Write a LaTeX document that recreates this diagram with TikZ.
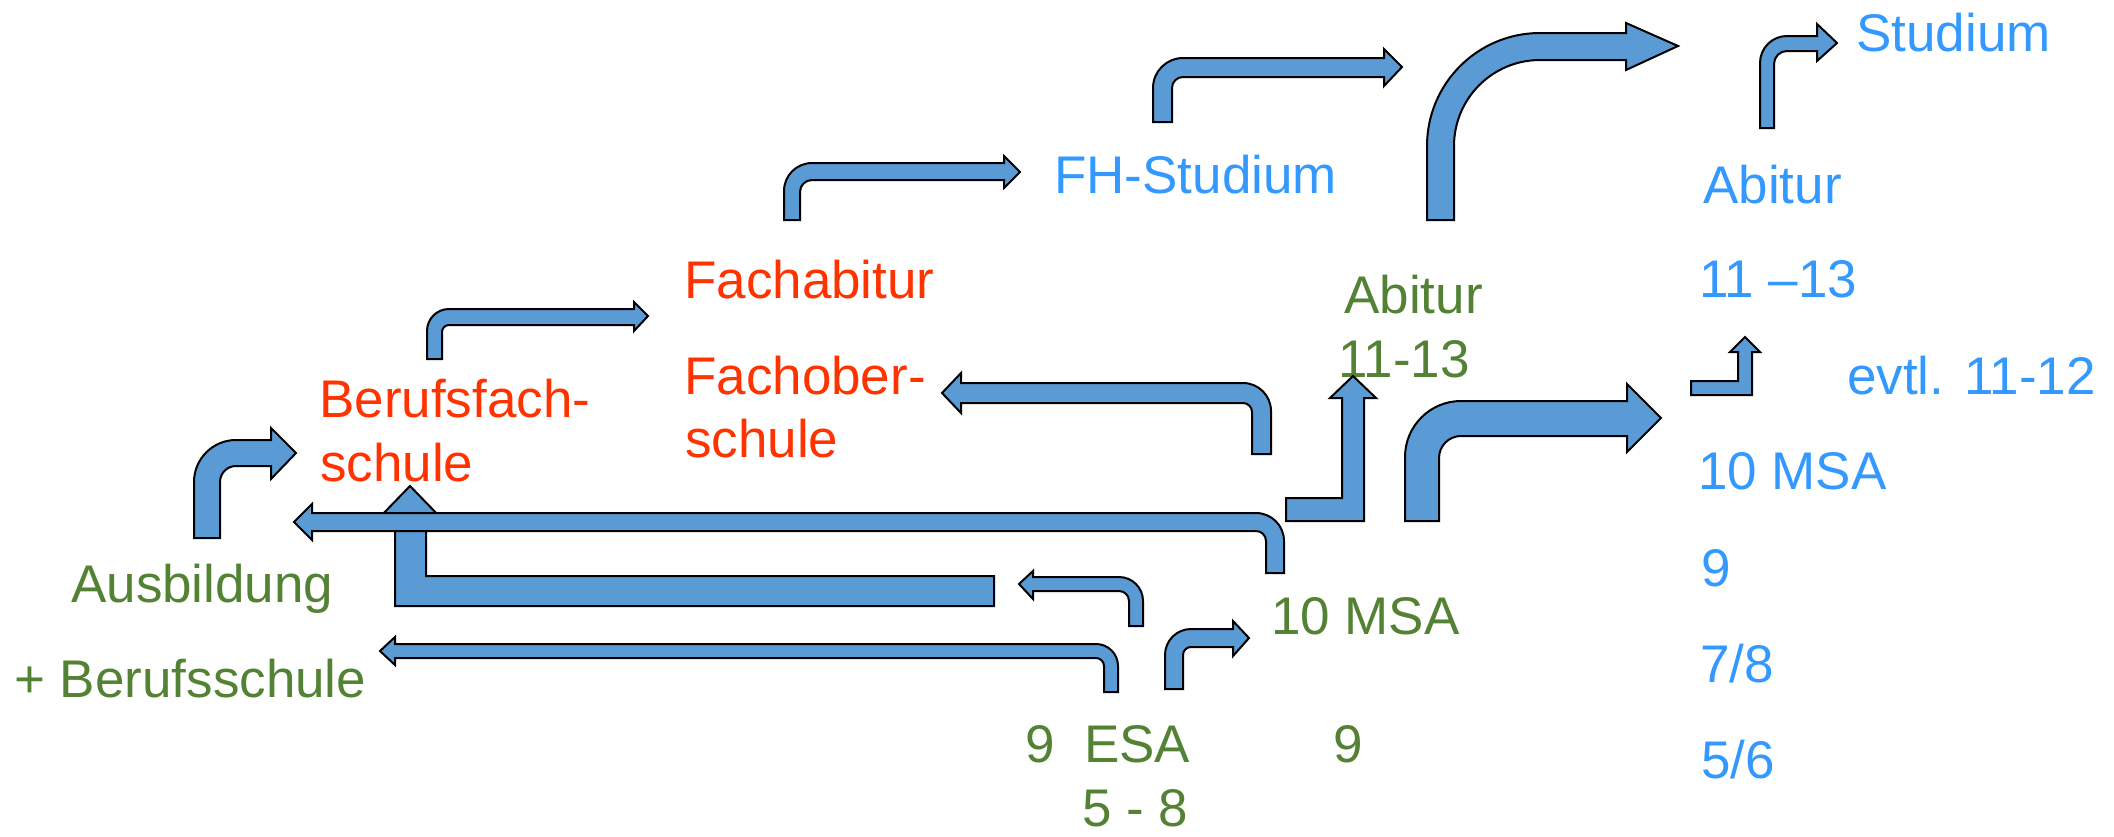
\documentclass[tikz,border=0pt]{standalone}
\usepackage{fontspec}
\setmainfont{Liberation Sans}
\definecolor{arrowblue}{HTML}{5B9BD5}
\definecolor{txtred}{HTML}{FF3300}
\definecolor{txtgreen}{HTML}{548235}
\definecolor{txtblue}{HTML}{3399FF}
\tikzset{
  blockarrow/.style={fill=arrowblue, draw=black, line width=2pt, line join=miter},
  lbl/.style={anchor=base west, inner sep=0pt, font=\fontsize{53}{64}\selectfont},
  redlbl/.style={lbl, text=txtred},
  greenlbl/.style={lbl, text=txtgreen},
  bluelbl/.style={lbl, text=txtblue}
}
\begin{document}
\begin{tikzpicture}[x=1pt,y=1pt]
\useasboundingbox (0,0) rectangle (2114,-836);

% ---- labels: vocational track (red) ----
\node[redlbl] (bfs1) at (319,-417) {Berufsfach-};
\node[redlbl] (bfs2) at (320,-481) {schule};
\node[redlbl] (fachabi) at (684,-298) {Fachabitur};
\node[redlbl] (fos1) at (684,-394) {Fachober-};
\node[redlbl] (fos2) at (685,-457) {schule};

% ---- labels: comprehensive school (green) ----
\node[greenlbl] (ausb) at (71,-602) {Ausbildung};
\node[greenlbl] (bs) at (14,-697) {+ Berufsschule};
\node[greenlbl] (abigr) at (1344,-313) {Abitur};
\node[greenlbl] (abigrb) at (1338,-377) {11-13};
\node[greenlbl] (msagr) at (1271,-634) {10 MSA};
\node[greenlbl] (esa) at (1025,-762) {9~~ESA};
\node[greenlbl] (unter) at (1082,-826) {5 - 8};
\node[greenlbl] (neungr) at (1333,-762) {9};

% ---- labels: grammar school (blue) ----
\node[bluelbl] (fh) at (1054,-193) {FH-Studium};
\node[bluelbl] (studium) at (1856,-51) {Studium};
\node[bluelbl] (abibl) at (1703,-203) {Abitur};
\node[bluelbl] (oberst) at (1699,-297) {11 –13};
\node[bluelbl] (evtl) at (1847,-394) {evtl. 11-12};
\node[bluelbl] (msabl) at (1698,-489) {10 MSA};
\node[bluelbl] (neunbl) at (1701,-586) {9};
\node[bluelbl] (siebenbl) at (1700,-682) {7/8};
\node[bluelbl] (fuenfbl) at (1701,-778) {5/6};

% ---- block arrows ----
% wide bent-up arrow into Berufsfachschule (partly behind the long arrow)
\draw[blockarrow] (994,-576) -- (426,-576) -- (426,-520) -- (443,-520) -- (410,-486)
  -- (377,-520) -- (395,-520) -- (395,-606) -- (994,-606) -- cycle;
% long arrow from 10 MSA to Berufsfachschule
\draw[blockarrow] (294,-522) -- (312,-504) -- (312,-513) -- (1256,-513)
  arc[start angle=90,end angle=0,radius=28] -- (1284,-573) -- (1266,-573) -- (1266,-541)
  arc[start angle=0,end angle=90,radius=10] -- (312,-531) -- (312,-540) -- cycle;
% Ausbildung -> Berufsfachschule
\draw[blockarrow] (194,-538) -- (194,-482) arc[start angle=180,end angle=90,radius=42]
  -- (271,-440) -- (271,-428) -- (296,-453) -- (271,-479) -- (271,-466) -- (236,-466)
  arc[start angle=90,end angle=180,radius=16] -- (220,-538) -- cycle;
% Berufsfachschule -> Fachabitur
\draw[blockarrow] (427,-359) -- (427,-331) arc[start angle=180,end angle=90,radius=22]
  -- (634,-309) -- (634,-302) -- (648,-316) -- (634,-331) -- (634,-325) -- (449,-325)
  arc[start angle=90,end angle=180,radius=7] -- (442,-359) -- cycle;
% Fachabitur -> FH-Studium
\draw[blockarrow] (784,-220) -- (784,-191) arc[start angle=180,end angle=90,radius=28]
  -- (1004,-163) -- (1004,-156) -- (1020,-172) -- (1004,-188) -- (1004,-180) -- (812,-180)
  arc[start angle=90,end angle=180,radius=12] -- (800,-220) -- cycle;
% FH-Studium -> further
\draw[blockarrow] (1153,-122) -- (1153,-88) arc[start angle=180,end angle=90,radius=30]
  -- (1384,-58) -- (1384,-49) -- (1402,-67) -- (1384,-86) -- (1384,-77) -- (1183,-77)
  arc[start angle=90,end angle=180,radius=11] -- (1172,-122) -- cycle;
% Abitur (green) -> Studium
\draw[blockarrow] (1427,-220) -- (1427,-146) arc[start angle=180,end angle=90,radius=113]
  -- (1626,-33) -- (1626,-23) -- (1678,-46) -- (1626,-70) -- (1626,-60) -- (1540,-60)
  arc[start angle=90,end angle=180,radius=86] -- (1454,-220) -- cycle;
% Abitur (blue) -> Studium
\draw[blockarrow] (1760,-128) -- (1760,-63) arc[start angle=180,end angle=90,radius=27]
  -- (1817,-36) -- (1817,-24) -- (1837,-43) -- (1817,-61) -- (1817,-51) -- (1787,-51)
  arc[start angle=90,end angle=180,radius=13] -- (1774,-64) -- (1774,-128) -- cycle;
% 10 MSA (green) -> Fachoberschule
\draw[blockarrow] (942,-393) -- (961,-373) -- (961,-383) -- (1243,-383)
  arc[start angle=90,end angle=0,radius=28] -- (1271,-454) -- (1252,-454) -- (1252,-412)
  arc[start angle=0,end angle=90,radius=9] -- (961,-403) -- (961,-413) -- cycle;
% 10 MSA (green) -> Abitur 11-13
\draw[blockarrow] (1286,-498) -- (1342,-498) -- (1342,-398) -- (1330,-398) -- (1353,-376)
  -- (1376,-398) -- (1364,-398) -- (1364,-521) -- (1286,-521) -- cycle;
% 10 MSA (green) -> 10 MSA (blue)
\draw[blockarrow] (1405,-521) -- (1405,-457) arc[start angle=180,end angle=90,radius=56]
  -- (1627,-401) -- (1627,-384) -- (1661,-418) -- (1627,-452) -- (1627,-436) -- (1461,-436)
  arc[start angle=90,end angle=180,radius=22] -- (1439,-521) -- cycle;
% 10 MSA (blue) -> 11-13
\draw[blockarrow] (1691,-381) -- (1738,-381) -- (1738,-352) -- (1730,-352) -- (1745,-337)
  -- (1760,-352) -- (1752,-352) -- (1752,-395) -- (1691,-395) -- cycle;
% ESA -> wide arrow
\draw[blockarrow] (1019,-584) -- (1033,-571) -- (1033,-577) -- (1119,-577)
  arc[start angle=90,end angle=0,radius=24] -- (1143,-626) -- (1129,-626) -- (1129,-601)
  arc[start angle=0,end angle=90,radius=10] -- (1033,-591) -- (1033,-599) -- cycle;
% ESA -> Ausbildung + Berufsschule
\draw[blockarrow] (380,-651) -- (395,-637) -- (395,-644) -- (1096,-644)
  arc[start angle=90,end angle=0,radius=22] -- (1118,-692) -- (1104,-692) -- (1104,-666)
  arc[start angle=0,end angle=90,radius=8] -- (395,-658) -- (395,-665) -- cycle;
% ESA -> 10 MSA
\draw[blockarrow] (1165,-689) -- (1165,-655) arc[start angle=180,end angle=90,radius=26]
  -- (1233,-629) -- (1233,-621) -- (1249,-638) -- (1233,-656) -- (1233,-647) -- (1191,-647)
  arc[start angle=90,end angle=180,radius=8] -- (1183,-689) -- cycle;
\end{tikzpicture}
\end{document}
